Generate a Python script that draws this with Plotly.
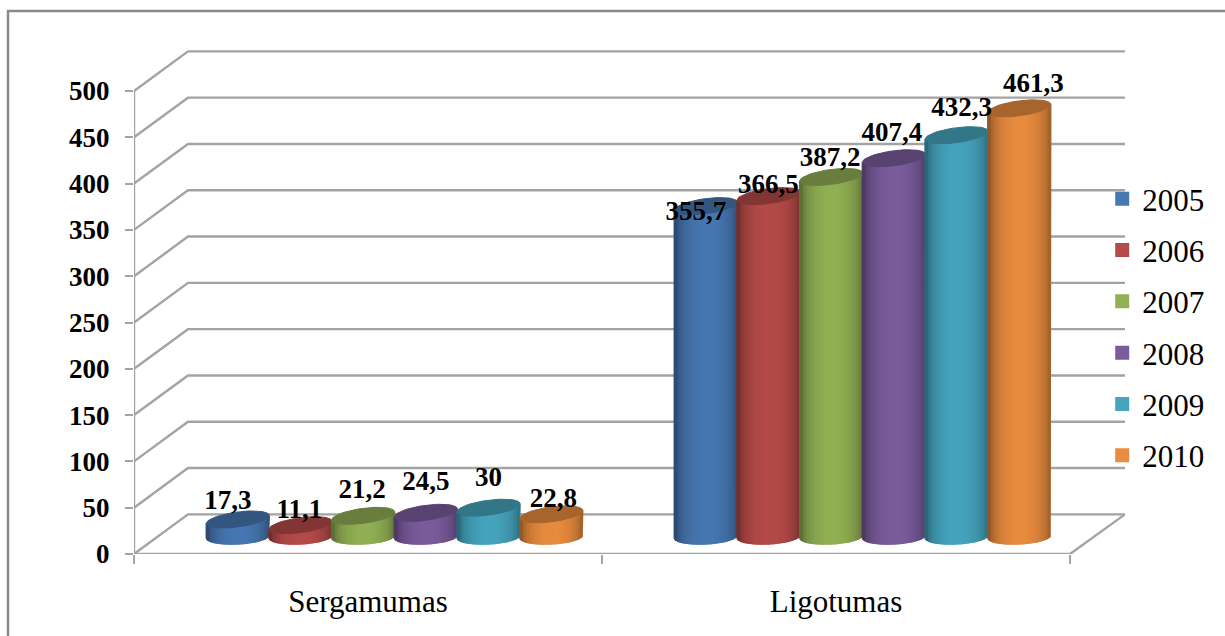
import numpy as np
import plotly.graph_objects as go

categories = ["Sergamumas", "Ligotumas"]
years = ["2005", "2006", "2007", "2008", "2009", "2010"]
values = {
    "2005": [17.3, 355.7],
    "2006": [11.1, 366.5],
    "2007": [21.2, 387.2],
    "2008": [24.5, 407.4],
    "2009": [30, 432.3],
    "2010": [22.8, 461.3],
}
labels = {
    "2005": ["17,3", "355,7"],
    "2006": ["11,1", "366,5"],
    "2007": ["21,2", "387,2"],
    "2008": ["24,5", "407,4"],
    "2009": ["30", "432,3"],
    "2010": ["22,8", "461,3"],
}
colors = ["#4778B2", "#B54B49", "#92B054", "#7A5C9C", "#46A4BE", "#E98C3F"]
y_ticks = list(range(0, 501, 50))

# hand placement of the data labels, px from the centre of each cylinder's top
label_dx = {"2005": [-10, -10], "2006": [-1, 0], "2007": [-1, -1],
            "2008": [0, -2], "2009": [0, 5], "2010": [2, 14]}
label_dy = {"2005": [-17, 7.5], "2006": [-13.5, -9.5], "2007": [-24.5, -17.5],
            "2008": [-29.5, -23.5], "2009": [-28.5, -25.5], "2010": [-14.5, -23.5]}

W, H = 1225, 636
X0, X1, X_END = 134, 1070, 1125
Y0_PX, PX_PER_UNIT = 554, 0.926
TOP_PX = 40
DX, DY_UNITS = 54, 42.8
GRID = "#A3A3A3"
FONT = "Liberation Serif"

y_max = (Y0_PX - TOP_PX) / PX_PER_UNIT
group_w = (X1 - X0) / 2
centres = [X0 + group_w * (i + 0.5) for i in range(2)]
STEP, A = 62.7, 31.5
LIFT = 20.0
BASE_U = 19.0
B = 7.5 / PX_PER_UNIT
T_TOP, T_BOT = 4 / PX_PER_UNIT, 1.5 / PX_PER_UNIT


def shade(c, f):
    r, g, b = [int(c[i:i + 2], 16) for i in (1, 3, 5)]
    return f"rgb({int(r * f)},{int(g * f)},{int(b * f)})"


fig = go.Figure()

wx, wy = [], []
for v in y_ticks:
    wx += [X0, X0 + DX, X_END, None]
    wy += [v, v + DY_UNITS, v + DY_UNITS, None]
wx += [X0, X1, X_END, None, X0, X0, None]
wy += [0, 0, DY_UNITS, None, 0, 500, None]
fig.add_trace(go.Scatter(x=wx, y=wy, mode="lines", line=dict(color=GRID, width=2.4),
                         hoverinfo="skip", showlegend=False))

for s, yr in enumerate(years):
    xs = [c + 26.5 + (s - 2.5) * STEP for c in centres]
    fig.add_trace(go.Bar(x=xs, y=values[yr], base=LIFT, width=20, name=yr,
                         marker=dict(color=colors[s], line=dict(width=2, color=colors[s])),
                         legendgroup=yr, hovertemplate=yr + ": %{y}<extra></extra>"))

edges = np.linspace(-1, 1, 33)
for g in range(2):
    for s, yr in enumerate(years):
        cx = centres[g] + 26.5 + (s - 2.5) * STEP
        top = values[yr][g] + LIFT
        for u1, u2 in zip(edges[:-1], edges[1:]):
            us = np.linspace(u1, u2, 4)
            um = (u1 + u2) / 2
            f = 0.64 + 0.36 * max(0.0, 1 - ((um - 0.05) / 0.95) ** 2) ** 0.6
            xp = cx + A * us
            arc = B * np.sqrt(np.clip(1 - us ** 2, 0, 1))
            yt = top + T_TOP * us - arc
            yb = BASE_U + T_BOT * us - arc
            col = shade(colors[s], f)
            fig.add_trace(go.Scatter(
                x=np.r_[xp, xp[::-1], xp[0]], y=np.r_[yt, yb[::-1], yt[0]],
                mode="lines", fill="toself", fillcolor=col, line=dict(color=col, width=1.4),
                hoverinfo="skip", showlegend=False))
        t = np.linspace(0, 2 * np.pi, 61)
        col = shade(colors[s], 0.72)
        fig.add_trace(go.Scatter(
            x=cx + A * np.cos(t), y=top + T_TOP * np.cos(t) + B * np.sin(t),
            mode="lines", fill="toself", fillcolor=col, line=dict(color=col, width=1),
            hoverinfo="skip", showlegend=False))

for s, yr in enumerate(years):
    xs = [c + 26.5 + (s - 2.5) * STEP + dx for c, dx in zip(centres, label_dx[yr])]
    ys = [v + LIFT - dy / PX_PER_UNIT for v, dy in zip(values[yr], label_dy[yr])]
    fig.add_trace(go.Scatter(
        x=xs, y=ys, text=labels[yr], mode="text", textposition="middle center",
        textfont=dict(family=FONT, size=27, color="black", weight="bold"),
        hoverinfo="skip", showlegend=False))

fig.add_shape(type="rect", xref="paper", yref="paper", layer="below",
              x0=(8 - X0) / (X_END - X0), x1=1.5,
              y0=-1, y1=(Y0_PX - 11) / (Y0_PX - TOP_PX),
              line=dict(color="#8A8A8A", width=2.5))

fig.update_layout(
    width=W, height=H, autosize=False,
    margin=dict(l=X0, r=W - X_END, t=TOP_PX, b=H - Y0_PX, pad=0, autoexpand=False),
    paper_bgcolor="white", plot_bgcolor="rgba(0,0,0,0)",
    barmode="overlay", bargap=0,
    showlegend=True,
    legend=dict(x=0.977, xanchor="left", y=0.743, yanchor="top", traceorder="grouped",
                tracegroupgap=8, itemwidth=30,
                font=dict(family=FONT, size=31, color="black"), bgcolor="rgba(0,0,0,0)"),
    xaxis=dict(range=[X0, X_END], tickmode="array", tickvals=centres, ticktext=categories,
               ticks="", showgrid=False, zeroline=False, showline=False, fixedrange=True,
               tickfont=dict(family=FONT, size=31, color="black"), ticklabelstandoff=26,
               minor=dict(tickmode="array", tickvals=[X0, X0 + group_w, X1], ticks="outside",
                          ticklen=9, tickwidth=2, tickcolor=GRID, showgrid=False)),
    yaxis=dict(range=[0, y_max], tickmode="array", tickvals=y_ticks, ticks="outside", ticklen=8,
               tickwidth=2, tickcolor=GRID, showgrid=False, zeroline=False, showline=False,
               fixedrange=True, ticklabelstandoff=10,
               tickfont=dict(family=FONT, size=27, color="black", weight="bold")),
)
fig.write_html("out.html", config={"displayModeBar": False},
               post_script="document.body.style.margin='0';document.body.style.overflow='hidden';")
